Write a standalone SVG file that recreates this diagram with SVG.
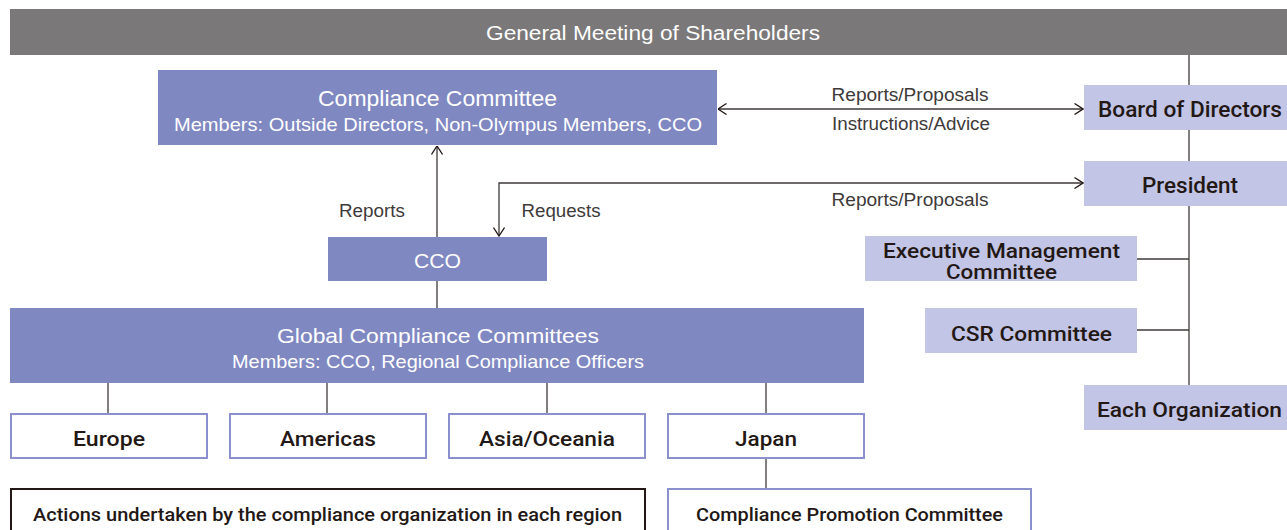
<svg xmlns="http://www.w3.org/2000/svg" width="1287" height="530" viewBox="0 0 1287 530">
  <style>
    .bar { fill: #7a7878; }
    .dark { fill: #8088c2; }
    .light { fill: #c2c5e5; }
    .region { fill: #ffffff; stroke: #8b91cc; stroke-width: 2; }
    .wt { font-family: "Liberation Sans", Arial, sans-serif; fill: #ffffff; text-anchor: middle; }
    .bt { font-family: Roboto, "Liberation Sans", Arial, sans-serif; font-weight: 500; fill: #231815; text-anchor: middle; }
    .lbl { font-family: "Liberation Sans", Arial, sans-serif; fill: #3e3a39; text-anchor: middle; font-size: 17.5px; }
    .ln { stroke: #3e3a39; stroke-width: 1.3; fill: none; }
  </style>
  <defs>
    <marker id="arr" viewBox="0 0 10 12" refX="9.5" refY="6" markerWidth="10" markerHeight="12" markerUnits="userSpaceOnUse" orient="auto-start-reverse">
      <path d="M1,0.5 L9.5,6 L1,11.5" fill="none" stroke="#231815" stroke-width="1.3"/>
    </marker>
  </defs>

  <!-- connectors -->
  <g id="connectors">
    <line class="ln" x1="1189" y1="55" x2="1189" y2="385"/>
    <line class="ln" x1="1137" y1="259" x2="1189" y2="259"/>
    <line class="ln" x1="1137" y1="330" x2="1189" y2="330"/>
    <line class="ln" x1="718" y1="109" x2="1083" y2="109" marker-start="url(#arr)" marker-end="url(#arr)"/>
    <path class="ln" d="M499,236 V183 H1083" marker-start="url(#arr)" marker-end="url(#arr)"/>
    <line class="ln" x1="437" y1="237" x2="437" y2="146" marker-end="url(#arr)"/>
    <line class="ln" x1="437" y1="281" x2="437" y2="308"/>
    <line class="ln" x1="108" y1="383" x2="108" y2="413"/>
    <line class="ln" x1="327" y1="383" x2="327" y2="413"/>
    <line class="ln" x1="547" y1="383" x2="547" y2="413"/>
    <line class="ln" x1="766" y1="383" x2="766" y2="413"/>
    <line class="ln" x1="766" y1="458" x2="766" y2="488"/>
    <text class="lbl" x="910" y="101" textLength="157" lengthAdjust="spacingAndGlyphs">Reports/Proposals</text>
    <text class="lbl" x="911" y="130" textLength="158" lengthAdjust="spacingAndGlyphs">Instructions/Advice</text>
    <text class="lbl" x="910" y="206" textLength="157" lengthAdjust="spacingAndGlyphs">Reports/Proposals</text>
    <text class="lbl" x="372" y="217" textLength="66" lengthAdjust="spacingAndGlyphs">Reports</text>
    <text class="lbl" x="561" y="217" textLength="79" lengthAdjust="spacingAndGlyphs">Requests</text>
  </g>

  <g id="shareholders">
    <rect class="bar" x="10" y="9" width="1277" height="46"/>
    <text class="wt" x="653" y="40" font-size="19.5" textLength="334" lengthAdjust="spacingAndGlyphs">General Meeting of Shareholders</text>
  </g>

  <g id="compliance-committee">
    <rect class="dark" x="158" y="70" width="559" height="75"/>
    <text class="wt" x="437.5" y="105.5" font-size="22" textLength="239" lengthAdjust="spacingAndGlyphs">Compliance Committee</text>
    <text class="wt" x="438" y="130.5" font-size="18.5" textLength="528" lengthAdjust="spacingAndGlyphs">Members: Outside Directors, Non-Olympus Members, CCO</text>
  </g>

  <g id="board">
    <rect class="light" x="1084" y="85" width="203" height="45"/>
    <text class="bt" x="1190" y="116.5" font-size="21.5" textLength="184" lengthAdjust="spacingAndGlyphs">Board of Directors</text>
  </g>

  <g id="president">
    <rect class="light" x="1084" y="161" width="203" height="45"/>
    <text class="bt" x="1190" y="193" font-size="21.5" textLength="96" lengthAdjust="spacingAndGlyphs">President</text>
  </g>

  <g id="cco">
    <rect class="dark" x="328" y="237" width="219" height="44"/>
    <text class="wt" x="437.5" y="267.5" font-size="21" textLength="47" lengthAdjust="spacingAndGlyphs">CCO</text>
  </g>

  <g id="executive-management">
    <rect class="light" x="865" y="236" width="272" height="45"/>
    <text class="bt" x="1001.5" y="258" font-size="19.5" textLength="237" lengthAdjust="spacingAndGlyphs">Executive Management</text>
    <text class="bt" x="1001.5" y="278.5" font-size="19.5" textLength="111" lengthAdjust="spacingAndGlyphs">Committee</text>
  </g>

  <g id="csr">
    <rect class="light" x="925" y="308" width="212" height="45"/>
    <text class="bt" x="1031.5" y="340.5" font-size="21" textLength="161" lengthAdjust="spacingAndGlyphs">CSR Committee</text>
  </g>

  <g id="each-organization">
    <rect class="light" x="1084" y="385" width="203" height="45"/>
    <text class="bt" x="1189.5" y="416.5" font-size="21" textLength="185" lengthAdjust="spacingAndGlyphs">Each Organization</text>
  </g>

  <g id="global">
    <rect class="dark" x="10" y="308" width="854" height="75"/>
    <text class="wt" x="438" y="343" font-size="21" textLength="322" lengthAdjust="spacingAndGlyphs">Global Compliance Committees</text>
    <text class="wt" x="438" y="368" font-size="18.5" textLength="412" lengthAdjust="spacingAndGlyphs">Members: CCO, Regional Compliance Officers</text>
  </g>

  <g id="europe">
    <rect class="region" x="11" y="414" width="196" height="44"/>
    <text class="bt" x="109" y="446" font-size="20" textLength="72" lengthAdjust="spacingAndGlyphs">Europe</text>
  </g>
  <g id="americas">
    <rect class="region" x="230" y="414" width="196" height="44"/>
    <text class="bt" x="328" y="446" font-size="20" textLength="96" lengthAdjust="spacingAndGlyphs">Americas</text>
  </g>
  <g id="asia-oceania">
    <rect class="region" x="449" y="414" width="196" height="44"/>
    <text class="bt" x="547" y="446" font-size="20" textLength="136" lengthAdjust="spacingAndGlyphs">Asia/Oceania</text>
  </g>
  <g id="japan">
    <rect class="region" x="668" y="414" width="196" height="44"/>
    <text class="bt" x="766" y="446" font-size="20" textLength="62" lengthAdjust="spacingAndGlyphs">Japan</text>
  </g>

  <g id="regional-actions">
    <rect x="11" y="489" width="634" height="50" fill="#ffffff" stroke="#231815" stroke-width="2"/>
    <text class="bt" x="327.5" y="520.5" font-size="18.5" textLength="589" lengthAdjust="spacingAndGlyphs">Actions undertaken by the compliance organization in each region</text>
  </g>

  <g id="promotion-committee">
    <rect class="region" x="668" y="489" width="363" height="50"/>
    <text class="bt" x="849.5" y="520.5" font-size="18.5" textLength="307" lengthAdjust="spacingAndGlyphs">Compliance Promotion Committee</text>
  </g>
</svg>
